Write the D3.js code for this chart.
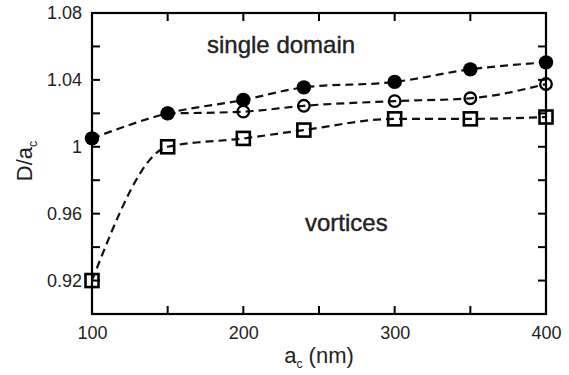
<!DOCTYPE html>
<html>
<head>
<meta charset="utf-8">
<script src="https://cdn.jsdelivr.net/npm/d3@7.9.0/dist/d3.min.js"></script>
<style>
  body { margin: 0; background: #fff; }
  svg text { font-family: "Liberation Sans", Arial, sans-serif; fill: #222; }
</style>
</head>
<body>
<svg id="chart" width="569" height="375"></svg>
<script>
// data
const filledX = [100, 150, 200, 240, 300, 350, 400];
const filledY = [1.005, 1.020, 1.028, 1.0355, 1.0388, 1.0463, 1.0505];

const openX = [150, 200, 240, 300, 350, 400];
const openY = [1.020, 1.021, 1.0245, 1.0273, 1.029, 1.0375];

const squareX = [100, 150, 200, 240, 300, 350, 400];
const squareY = [0.920, 1.000, 1.005, 1.010, 1.0167, 1.0167, 1.0178];

const xTickLabels = [100, 200, 300, 400];
const xMinorTicks = [150, 250, 350];
const yTickLabels = [0.92, 0.96, 1.0, 1.04, 1.08];
const yMinorTicks = [0.94, 0.98, 1.02, 1.06];

const margin = { top: 13, right: 23, bottom: 61, left: 92 };
const width = 569 - margin.left - margin.right;
const height = 375 - margin.top - margin.bottom;

const svg = d3.select('#chart')
  .append('g')
  .attr('transform', `translate(${margin.left},${margin.top})`);

const x = d3.scaleLinear().domain([100, 400]).range([0, width]);
const y = d3.scaleLinear().domain([0.90, 1.08]).range([height, 0]);

const fmt = d => d === 1 ? '1' : d3.format('.2f')(d);

// axes, ticks pointing inward
const allX = [...xTickLabels, ...xMinorTicks].filter(v => v > 100 && v < 400);
const allY = [...yTickLabels, ...yMinorTicks];

svg.append('g').attr('transform', `translate(0,${height})`)
  .call(d3.axisBottom(x).tickValues(xTickLabels).tickSize(0).tickPadding(12).tickFormat(d3.format('d')))
  .call(g => g.select('.domain').remove());
svg.append('g')
  .call(d3.axisLeft(y).tickValues(yTickLabels).tickSize(0).tickPadding(10).tickFormat(fmt))
  .call(g => g.select('.domain').remove());

svg.selectAll('g.tick text')
  .style('font-size', '18px')
  .style('font-family', '"Liberation Sans", Arial, sans-serif')
  .attr('fill', '#222');

const tk = 8;
const ticks = svg.append('g').attr('stroke', '#000').attr('stroke-width', 2);
allX.forEach(v => {
  ticks.append('line').attr('x1', x(v)).attr('x2', x(v)).attr('y1', height).attr('y2', height - tk);
  ticks.append('line').attr('x1', x(v)).attr('x2', x(v)).attr('y1', 0).attr('y2', tk);
});
allY.forEach(v => {
  ticks.append('line').attr('y1', y(v)).attr('y2', y(v)).attr('x1', 0).attr('x2', tk);
  ticks.append('line').attr('y1', y(v)).attr('y2', y(v)).attr('x1', width).attr('x2', width - tk);
});

svg.append('rect')
  .attr('width', width).attr('height', height)
  .attr('fill', 'none').attr('stroke', '#000').attr('stroke-width', 2.2);

// dashed curves
const series = [
  { xs: filledX, ys: filledY, type: 'filled' },
  { xs: openX, ys: openY, type: 'open' },
  { xs: squareX, ys: squareY, type: 'square' }
];

const line = d3.line().x(d => x(d[0])).y(d => y(d[1])).curve(d3.curveMonotoneX);

series.forEach(s => {
  const pts = s.xs.map((v, i) => [v, s.ys[i]]);
  svg.append('path')
    .datum(pts)
    .attr('fill', 'none')
    .attr('stroke', '#111')
    .attr('stroke-width', 2.2)
    .attr('stroke-dasharray', '8,5')
    .attr('d', line);
});

// markers
series.forEach(s => {
  const pts = s.xs.map((v, i) => [v, s.ys[i]]);
  if (s.type === 'filled') {
    svg.append('g').selectAll('circle').data(pts).join('circle')
      .attr('cx', d => x(d[0])).attr('cy', d => y(d[1])).attr('r', 7.2)
      .attr('fill', '#000');
  } else if (s.type === 'open') {
    svg.append('g').selectAll('circle').data(pts).join('circle')
      .attr('cx', d => x(d[0])).attr('cy', d => y(d[1])).attr('r', 5.8)
      .attr('fill', 'none').attr('stroke', '#000').attr('stroke-width', 2.3);
  } else {
    svg.append('g').selectAll('rect').data(pts).join('rect')
      .attr('x', d => x(d[0]) - 6.5).attr('y', d => y(d[1]) - 6.5)
      .attr('width', 13).attr('height', 13)
      .attr('fill', 'none').attr('stroke', '#000').attr('stroke-width', 2.6);
  }
});

// region labels
svg.append('text')
  .attr('x', 207 - margin.left).attr('y', 53 - margin.top)
  .style('font-size', '24px')
  .attr('stroke', '#222').attr('stroke-width', 0.4)
  .text('single domain');
svg.append('text')
  .attr('x', 305 - margin.left).attr('y', 231 - margin.top)
  .style('font-size', '24px')
  .attr('stroke', '#222').attr('stroke-width', 0.4)
  .text('vortices');

// axis titles
const xt = svg.append('text')
  .attr('x', x(250)).attr('y', 363 - margin.top)
  .attr('text-anchor', 'middle')
  .style('font-size', '22px');
xt.append('tspan').text('a');
xt.append('tspan').attr('dy', 5).style('font-size', '12px').text('c');
xt.append('tspan').attr('dy', -5).text(' (nm)');

const yt = svg.append('text')
  .attr('transform', `translate(${32 - margin.left},${161 - margin.top}) rotate(-90)`)
  .attr('text-anchor', 'middle')
  .style('font-size', '22px');
yt.append('tspan').text('D/a');
yt.append('tspan').attr('dy', 5).style('font-size', '12px').text('c');
</script>
</body>
</html>
